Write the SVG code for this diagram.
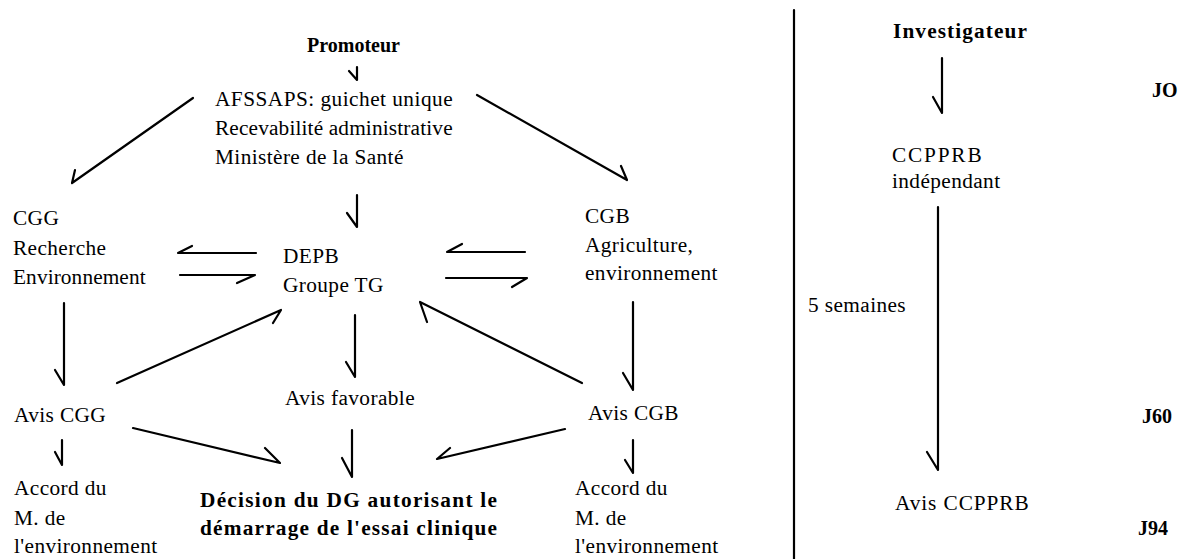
<svg xmlns="http://www.w3.org/2000/svg" width="1186" height="559" viewBox="0 0 1186 559">
  <style>
    text { font-family: "Liberation Serif", "Times New Roman", serif; font-size: 21.3px; letter-spacing: 0.4px; fill: #000; }
    .b { font-weight: bold; font-size: 20px; letter-spacing: 0; }
    .d { font-weight: bold; font-size: 21.3px; letter-spacing: 0; }
    .c { fill: none; stroke: #000; stroke-width: 2.2; stroke-linecap: round; stroke-linejoin: round; }
  </style>
  <rect width="1186" height="559" fill="#fff"/>

  <!-- left panel: authorisation route -->
  <g id="promoteur"><text class="b" x="307" y="52">Promoteur</text></g>
  <g id="afssaps">
    <text x="215" y="106" textLength="238" lengthAdjust="spacing">AFSSAPS: guichet unique</text>
    <text x="215" y="135" textLength="238" lengthAdjust="spacing">Recevabilité administrative</text>
    <text x="215" y="164">Ministère de la Santé</text>
  </g>
  <g id="cgg">
    <text x="13" y="225">CGG</text>
    <text x="13" y="255">Recherche</text>
    <text x="13" y="284" textLength="133" lengthAdjust="spacing">Environnement</text>
  </g>
  <g id="depb">
    <text x="283" y="263">DEPB</text>
    <text x="283" y="292">Groupe TG</text>
  </g>
  <g id="cgb">
    <text x="585" y="223">CGB</text>
    <text x="585" y="252">Agriculture,</text>
    <text x="585" y="280">environnement</text>
  </g>
  <g id="avis-cgg"><text x="14" y="422">Avis CGG</text></g>
  <g id="avis-favorable"><text x="285" y="405">Avis favorable</text></g>
  <g id="avis-cgb"><text x="588" y="420">Avis CGB</text></g>
  <g id="accord-gauche">
    <text x="14" y="495">Accord du</text>
    <text x="14" y="525">M. de</text>
    <text x="14" y="553">l'environnement</text>
  </g>
  <g id="accord-droite">
    <text x="575" y="495">Accord du</text>
    <text x="575" y="525">M. de</text>
    <text x="575" y="553">l'environnement</text>
  </g>
  <g id="decision">
    <text class="d" x="200" y="507" textLength="297" lengthAdjust="spacing">Décision du DG autorisant le</text>
    <text class="d" x="200" y="535" textLength="297" lengthAdjust="spacing">démarrage de l'essai clinique</text>
  </g>

  <!-- right panel: ethics committee route -->
  <g id="investigateur"><text class="d" x="893" y="38" textLength="134" lengthAdjust="spacing">Investigateur</text></g>
  <g id="ccpprb">
    <text x="892" y="162" textLength="90" lengthAdjust="spacing">CCPPRB</text>
    <text x="892" y="188">indépendant</text>
  </g>
  <g id="delai"><text x="808" y="312">5 semaines</text></g>
  <g id="avis-ccpprb"><text x="895" y="510" textLength="134" lengthAdjust="spacing">Avis CCPPRB</text></g>
  <g id="jalons">
    <text class="b" x="1152" y="97">JO</text>
    <text class="b" x="1142" y="423">J60</text>
    <text class="b" x="1138" y="535">J94</text>
  </g>

  <!-- connectors: shaft plus a single hand-drawn barb at the tip -->
  <g id="connectors" class="c">
    <path d="M357 67 V80 L349 71"/>
    <path d="M193 98 L72 183 L75 170"/>
    <path d="M477 95 L627 180 L621 166"/>
    <path d="M357 195 V227 L347 213"/>
    <path d="M256 253 H178 L192 246"/>
    <path d="M180 275 H255 L237 283"/>
    <path d="M525 252 H447 L462 244"/>
    <path d="M446 278 H527 L512 287"/>
    <path d="M64 303 V385 L55 370"/>
    <path d="M117 383 L281 310 L273 323"/>
    <path d="M355 315 V377 L346 362"/>
    <path d="M582 383 L420 302 L427 322"/>
    <path d="M633 302 V390 L623 373"/>
    <path d="M62 440 V465 L55 452"/>
    <path d="M133 428 L280 463 L265 448"/>
    <path d="M352 430 V477 L342 458"/>
    <path d="M565 429 L437 459 L450 448"/>
    <path d="M633 440 V473 L625 460"/>
    <path d="M942 58 V113 L933 97"/>
    <path d="M938 207 V470 L927 452"/>
    <path d="M794 10 V559"/>
  </g>
</svg>
